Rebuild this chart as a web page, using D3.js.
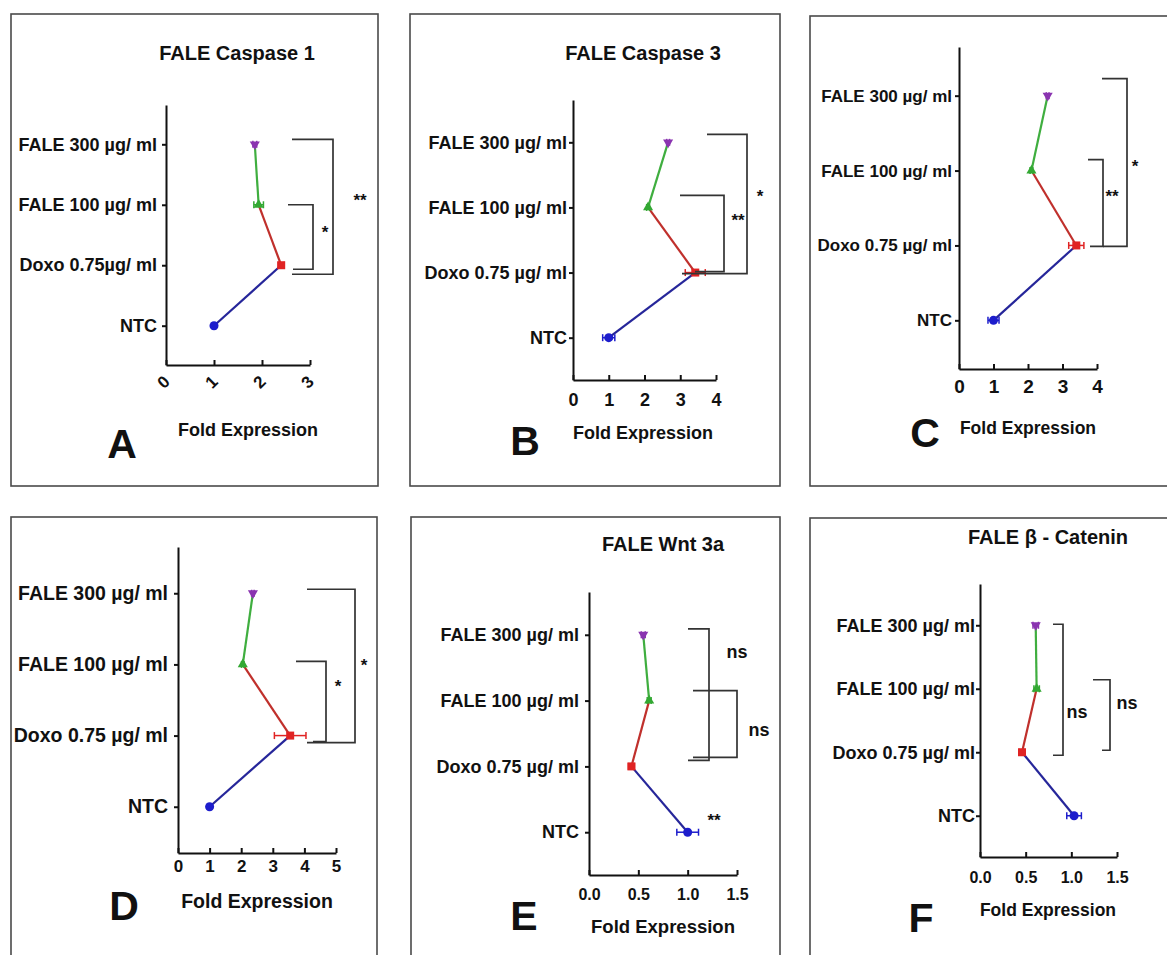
<html>
<head>
<meta charset="UTF-8">
<title>FALE fold expression</title>
<script src="https://cdn.jsdelivr.net/npm/d3@7"></script>
<style>
  body { margin:0; background:#fff; }
  svg text { font-family:"Liberation Sans", Arial, sans-serif; font-weight:bold; fill:#111; }
</style>
</head>
<body>
<svg id="chart" width="1167" height="955"></svg>
<script>
// categories, bottom to top on the y axis
var categories  = ["NTC", "Doxo 0.75 µg/ ml", "FALE 100 µg/ ml", "FALE 300 µg/ ml"];
var categoriesA = ["NTC", "Doxo 0.75µg/ ml", "FALE 100 µg/ ml", "FALE 300 µg/ ml"];
var panelLetters = ["A", "B", "C", "D", "E", "F"];
var panelTitles  = ["FALE Caspase 1", "FALE Caspase 3", "", "", "FALE Wnt 3a", "FALE β - Catenin"];
var axisTitle = "Fold Expression";

// fold expression (mean) and error, same order as categories
var foldA = [1.00, 2.40, 1.93, 1.85];
var errA  = [0.04, 0.06, 0.10, 0.04];
var foldB = [1.00, 3.42, 2.10, 2.66];
var errB  = [0.17, 0.28, 0.04, 0.04];
var foldC = [1.00, 3.40, 2.10, 2.57];
var errC  = [0.16, 0.22, 0.04, 0.04];
var foldD = [1.00, 3.55, 2.05, 2.37];
var errD  = [0.04, 0.50, 0.04, 0.04];
var foldE = [1.00, 0.43, 0.61, 0.55];
var errE  = [0.11, 0.03, 0.02, 0.02];
var foldF = [1.03, 0.46, 0.62, 0.61];
var errF  = [0.08, 0.03, 0.03, 0.03];

// x axis ticks
var ticksA = [0, 1, 2, 3];
var ticksB = [0, 1, 2, 3, 4];
var ticksC = [0, 1, 2, 3, 4];
var ticksD = [0, 1, 2, 3, 4, 5];
var ticksE = [0, 0.5, 1.0, 1.5];
var ticksF = [0, 0.5, 1.0, 1.5];

// significance: [from category, to category, label]
var sigA = [[1, 3, "**"], [1, 2, "*"]];
var sigB = [[1, 3, "*"], [1, 2, "**"]];
var sigC = [[1, 3, "*"], [1, 2, "**"]];
var sigD = [[1, 3, "*"], [1, 2, "*"]];
var sigE = [[1, 3, "ns"], [1, 2, "ns"]];
var sigF = [[1, 3, "ns"], [1, 2, "ns"]];

var markerColor = ["#1d1dcc", "#e02323", "#33a833", "#8a34b0"];
var lineColor   = ["#26269a", "#c0302c", "#3fae3f"];

// layout, pixels
var panels = [
  {cats:categoriesA, fold:foldA, err:errA, ticks:ticksA, sig:sigA, fmt:"d", rot:true,
   box:[11,14,367,472], x0:166, x1:310, top:105, bot:365, lab:9, fs:18, tfs:17, tpad:10,
   title:[237,60], letter:[122,458], axt:[248,436], axfs:18,
   br:[[292,292,333,-5,9,360,206],[288,293,313,0,4,325,238]]},
  {cats:categories, fold:foldB, err:errB, ticks:ticksB, sig:sigB, fmt:"d",
   box:[410,14,370,472], x0:573, x1:716, top:100, bot:380, lab:6, fs:18, tfs:18, tpad:13,
   title:[643,60], letter:[525,455], axt:[643,439], axfs:18,
   br:[[707,682,747,-8,1,760,202],[680,695,724,-12,-1,738,226]]},
  {cats:categories, fold:foldC, err:errC, ticks:ticksC, sig:sigC, fmt:"d",
   box:[810,16,372,470], x0:959, x1:1097, top:47, bot:369, lab:7, fs:17, tfs:19, tpad:11,
   title:null, letter:[925,447], axt:[1028,434], axfs:17.5,
   br:[[1102,1103,1127,-17,1,1135,172],[1088,1090,1103,-11,1,1112,202]]},
  {cats:categories, fold:foldD, err:errD, ticks:ticksD, sig:sigD, fmt:"d",
   box:[11,517,366,450], x0:178, x1:336, top:547, bot:853, lab:10, fs:19.5, tfs:17, tpad:7,
   title:null, letter:[124,920], axt:[257,908], axfs:19.5,
   br:[[307,307,355,-4,7,364,671],[296,313,326,-3,6,338,692]]},
  {cats:categories, fold:foldE, err:errE, ticks:ticksE, sig:sigE, fmt:".1f",
   box:[411,517,369,450], x0:589, x1:737, top:592, bot:875, lab:10, fs:18, tfs:16, tpad:14,
   title:[663,551], letter:[524,930], axt:[663,933], axfs:18.5,
   br:[[688,688,709,-6,-6,737,658],[693,693,737,-10,-9,759,736]],
   extra:["**", 0, 714, 826]},
  {cats:categories, fold:foldF, err:errF, ticks:ticksF, sig:sigF, fmt:".1f",
   box:[810,518,372,450], x0:980, x1:1117, top:584, bot:857, lab:5, fs:18, tfs:16, tpad:15,
   title:[1048,544], letter:[921,932], axt:[1048,916], axfs:17.5,
   br:[[1053,1053,1063,-1,3,1077,718],[1093,1102,1110,-9,-2,1127,709]]}
];

var svg = d3.select("#chart");

function drawPanel(p, i) {
  var g = svg.append("g");

  g.append("rect")
    .attr("x", p.box[0]).attr("y", p.box[1])
    .attr("width", p.box[2]).attr("height", p.box[3])
    .attr("fill", "none").attr("stroke", "#4a4a4a").attr("stroke-width", 1.6);

  var xMax = p.ticks[p.ticks.length - 1];
  var x = d3.scaleLinear().domain([0, xMax]).range([p.x0, p.x1]);
  var y = d3.scalePoint().domain(d3.range(4)).range([p.bot, p.top]).padding(0.65);

  // y axis
  var yAxis = g.append("g")
    .attr("transform", "translate(" + p.x0 + ",0)")
    .call(d3.axisLeft(y).tickSizeInner(4).tickSizeOuter(0).tickPadding(p.lab - 4)
      .tickFormat(function (d) { return p.cats[d]; }));
  yAxis.selectAll("text").style("font-size", p.fs + "px");

  // x axis (ticks point inward)
  var xAxis = g.append("g")
    .attr("transform", "translate(0," + p.bot + ")")
    .call(d3.axisBottom(x).tickValues(p.ticks).tickSizeInner(-5).tickSizeOuter(0)
      .tickPadding(p.tpad).tickFormat(d3.format(p.fmt)));
  xAxis.selectAll("text").style("font-size", p.tfs + "px");
  if (p.rot) {
    xAxis.selectAll("text")
      .attr("y", 0).attr("dy", "0.35em").attr("text-anchor", "middle")
      .attr("transform", "translate(-3,17) rotate(-45)");
  }
  g.selectAll(".domain, .tick line").attr("stroke", "#111").attr("stroke-width", 2);

  var pts = p.fold.map(function (v, k) { return {k:k, v:v, e:p.err[k]}; });

  // connecting segments
  g.selectAll("line.seg").data(d3.pairs(pts)).enter().append("line")
    .attr("class", "seg")
    .attr("x1", function (d) { return x(d[0].v); }).attr("y1", function (d) { return y(d[0].k); })
    .attr("x2", function (d) { return x(d[1].v); }).attr("y2", function (d) { return y(d[1].k); })
    .attr("stroke", function (d) { return lineColor[d[0].k]; })
    .attr("stroke-width", 2.2);

  // error bars
  var eb = g.selectAll("g.err").data(pts).enter().append("g").attr("class", "err")
    .attr("stroke", function (d) { return markerColor[d.k]; }).attr("stroke-width", 1.5);
  eb.append("line")
    .attr("x1", function (d) { return x(d.v - d.e); }).attr("x2", function (d) { return x(d.v + d.e); })
    .attr("y1", function (d) { return y(d.k); }).attr("y2", function (d) { return y(d.k); });
  eb.append("line")
    .attr("x1", function (d) { return x(d.v - d.e); }).attr("x2", function (d) { return x(d.v - d.e); })
    .attr("y1", function (d) { return y(d.k) - 3.5; }).attr("y2", function (d) { return y(d.k) + 3.5; });
  eb.append("line")
    .attr("x1", function (d) { return x(d.v + d.e); }).attr("x2", function (d) { return x(d.v + d.e); })
    .attr("y1", function (d) { return y(d.k) - 3.5; }).attr("y2", function (d) { return y(d.k) + 3.5; });

  // markers
  var shapes = [d3.symbolCircle, d3.symbolSquare, d3.symbolTriangle, d3.symbolTriangle];
  var sizes = [64, 64, 44, 44];
  g.selectAll("path.mk").data(pts).enter().append("path")
    .attr("class", "mk")
    .attr("d", function (d) { return d3.symbol().type(shapes[d.k]).size(sizes[d.k])(); })
    .attr("transform", function (d) {
      return "translate(" + x(d.v) + "," + y(d.k) + ")" + (d.k === 3 ? " rotate(180)" : "");
    })
    .attr("fill", function (d) { return markerColor[d.k]; });

  // significance brackets
  p.sig.forEach(function (s, j) {
    var b = p.br[j];
    var yt = y(s[1]) + b[3], yb = y(s[0]) + b[4];
    g.append("path")
      .attr("d", "M" + b[0] + "," + yt + "H" + b[2] + "V" + yb + "H" + b[1])
      .attr("fill", "none").attr("stroke", "#333").attr("stroke-width", 1.7);
    g.append("text").attr("x", b[5]).attr("y", b[6]).attr("text-anchor", "middle")
      .style("font-size", s[2] === "ns" ? "18px" : "17px")
      .text(s[2]);
  });
  if (p.extra) {
    g.append("text").attr("x", p.extra[2]).attr("y", p.extra[3]).attr("text-anchor", "middle")
      .style("font-size", "17px").text(p.extra[0]);
  }

  if (p.title) {
    g.append("text").attr("x", p.title[0]).attr("y", p.title[1]).attr("text-anchor", "middle")
      .style("font-size", "20px").text(panelTitles[i]);
  }
  g.append("text").attr("x", p.axt[0]).attr("y", p.axt[1]).attr("text-anchor", "middle")
    .style("font-size", p.axfs + "px").text(axisTitle);
  g.append("text").attr("x", p.letter[0]).attr("y", p.letter[1]).attr("text-anchor", "middle")
    .style("font-size", "41px").text(panelLetters[i]);
}

panels.forEach(drawPanel);
</script>
</body>
</html>
